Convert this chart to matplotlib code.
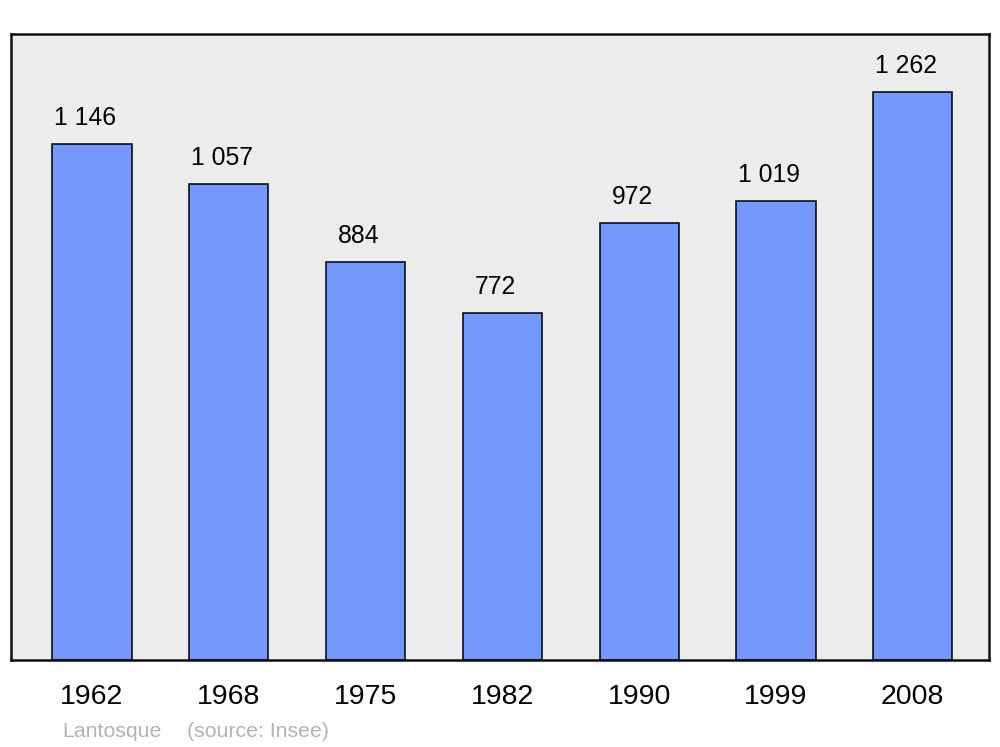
import matplotlib
matplotlib.use("Agg")
import matplotlib.pyplot as plt

years = ["1962", "1968", "1975", "1982", "1990", "1999", "2008"]
population = [1146, 1057, 884, 772, 972, 1019, 1262]
value_labels = ["1 146", "1 057", "884", "772", "972", "1 019", "1 262"]
commune = "Lantosque"
source = "(source: Insee)"

plt.rcParams['font.family'] = ['Liberation Sans', 'DejaVu Sans']

fig = plt.figure(figsize=(10, 7.47), dpi=100)
ax = fig.add_axes([0.011, 1 - 660 / 747, 0.978, (660 - 34) / 747])
ax.set_facecolor('#ececec')

x = list(range(len(years)))
ax.bar(x, population, width=0.578, color='#7399ff', edgecolor='black', linewidth=1.1, zorder=2)

for xi, v, lab in zip(x, population, value_labels):
    ax.annotate(lab, (xi, v), xytext=(-5, 13.7), textcoords='offset points',
                ha='center', va='baseline', fontsize=17.8, color='black')

ax.set_xlim(-0.592, 6.557)
ax.set_ylim(0, 1391)
ax.set_xticks(x)
ax.set_xticklabels(years, fontsize=20.5)
ax.tick_params(axis='x', length=0, pad=17)
ax.set_yticks([])
for s in ax.spines.values():
    s.set_linewidth(1.8)
    s.set_color('#111111')

fig.text(62 / 1000, 1 - 737 / 747, commune, fontsize=15.3, color='#b3b3b3', ha='left', va='baseline')
fig.text(187 / 1000, 1 - 737 / 747, source, fontsize=15.3, color='#b3b3b3', ha='left', va='baseline')

fig.savefig('out.png', dpi=100, facecolor='white')
